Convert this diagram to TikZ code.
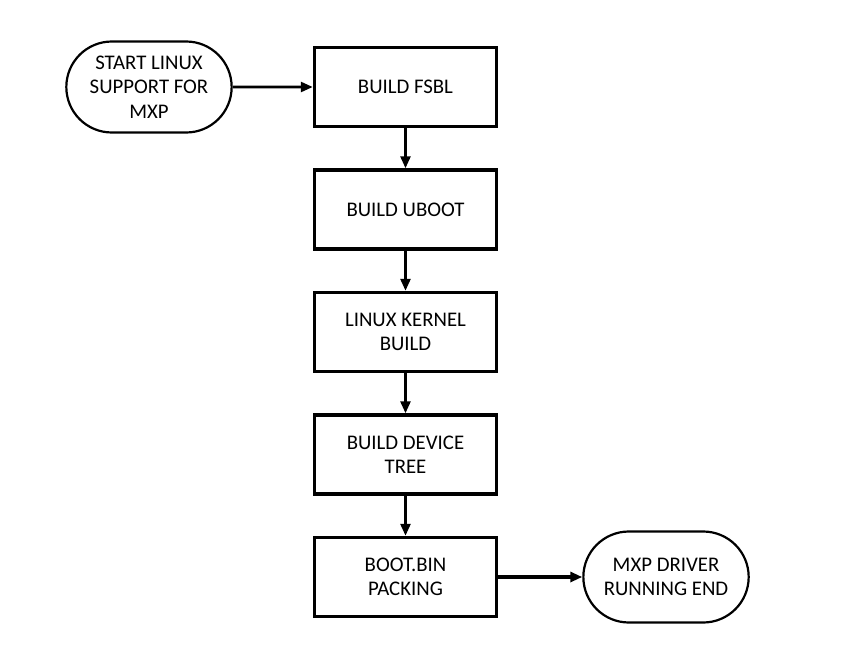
\documentclass[tikz,border=0pt]{standalone}
\usepackage{fontspec}
\setmainfont{Carlito}
\usetikzlibrary{arrows.meta, positioning, shapes.misc}

\tikzset{
    procbox/.style={draw, line width=3.5pt, minimum width=182pt, minimum height=79pt, align=center, font=\fontsize{20.8}{24.5}\selectfont},
    termbox/.style={draw, line width=2.2pt, rounded rectangle, minimum width=172pt, minimum height=91pt, align=center, font=\fontsize{20.8}{24.5}\selectfont},
    flow/.style={-{Triangle[length=12pt, width=10pt]}, line width=2.6pt}
}

\begin{document}
\begin{tikzpicture}[x=1pt, y=-1pt]
    \useasboundingbox (0, 0) rectangle (860, 672);

    \node[procbox] (fsbl) at (405.5, 87) {BUILD FSBL};
    \node[termbox, left=80pt of fsbl] (start) {START LINUX\\SUPPORT FOR\\MXP};
    \node[procbox, below=40pt of fsbl] (uboot) {BUILD UBOOT};
    \node[procbox, below=40pt of uboot] (kernel) {LINUX KERNEL\\BUILD};
    \node[procbox, below=40pt of kernel] (dtree) {BUILD DEVICE\\TREE};
    \node[procbox, below=40pt of dtree] (bootbin) {BOOT.BIN\\PACKING};
    \node[termbox, right=84pt of bootbin] (finish) {MXP DRIVER\\RUNNING END};

    \draw[flow] (start) -- (fsbl);
    \draw[flow] (fsbl) -- (uboot);
    \draw[flow] (uboot) -- (kernel);
    \draw[flow] (kernel) -- (dtree);
    \draw[flow] (dtree) -- (bootbin);
    \draw[flow, line width=3.5pt] (bootbin) -- (finish);
\end{tikzpicture}
\end{document}
